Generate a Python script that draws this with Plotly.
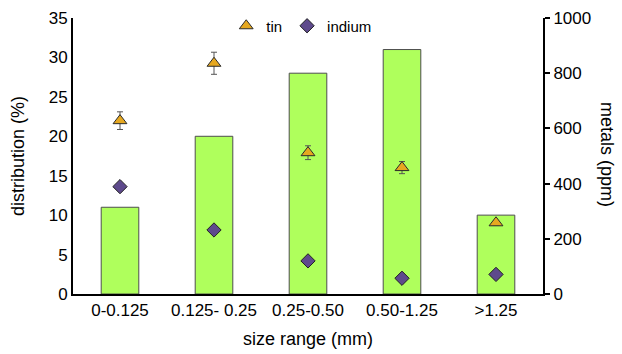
import plotly.graph_objects as go
from plotly.subplots import make_subplots

categories = ["0-0.125", "0.125- 0.25", "0.25-0.50", "0.50-1.25", ">1.25"]
distribution = [11, 20, 28, 31, 10]
tin_ppm = [628, 836, 512, 458, 258]
tin_err = [32, 40, 25, 22, 8]
indium_ppm = [389, 232, 120, 57, 71]

FONT = "Liberation Sans, Arial, sans-serif"

fig = make_subplots(specs=[[{"secondary_y": True}]])

fig.add_trace(go.Bar(
    x=categories, y=distribution, width=0.4,
    marker=dict(color="#AFFF5C", line=dict(color="#4d4d4d", width=1)),
    showlegend=False, name="distribution"), secondary_y=False)

fig.add_trace(go.Scatter(
    x=categories, y=tin_ppm, mode="markers", name="tin",
    marker=dict(symbol="triangle-up", size=12, color="#E6A820",
                line=dict(color="#2b2b2b", width=1)),
    error_y=dict(type="data", array=tin_err, color="#555555", thickness=1, width=3)),
    secondary_y=True)

fig.add_trace(go.Scatter(
    x=categories, y=indium_ppm, mode="markers", name="indium",
    marker=dict(symbol="diamond", size=11, color="#5E4A8C",
                line=dict(color="#222222", width=1))),
    secondary_y=True)

fig.update_layout(
    width=622, height=354,
    margin=dict(l=73, r=79, t=18, b=60, autoexpand=False),
    paper_bgcolor="white", plot_bgcolor="white",
    font=dict(family=FONT, size=17, color="black"),
    bargap=0.6,
    legend=dict(orientation="h", x=0.326, y=0.971, xanchor="left", yanchor="middle",
                font=dict(size=15), bgcolor="rgba(0,0,0,0)", itemwidth=30),
    showlegend=True,
)

fig.update_xaxes(domain=[0, 1], showline=True, linecolor="black", linewidth=2, ticks="",
                 showgrid=False, tickfont=dict(size=17), automargin=False,
                 title=dict(text="size range (mm)", font=dict(size=18), standoff=13))

fig.update_yaxes(range=[0, 35], dtick=5, showline=True, linecolor="black", linewidth=2,
                 ticks="", showgrid=False, zeroline=False, tickfont=dict(size=17),
                 automargin=False,
                 title=dict(text="distribution (%)", font=dict(size=18), standoff=19),
                 secondary_y=False)

fig.update_yaxes(range=[0, 1000], dtick=200, showline=True, linecolor="black", linewidth=2,
                 ticks="outside", ticklen=5, tickcolor="black", tickwidth=1.5,
                 showgrid=False, zeroline=False, tickfont=dict(size=17), automargin=False,
                 secondary_y=True)

fig.add_annotation(text="metals (ppm)", textangle=90, xref="paper", yref="paper",
                   x=1.136, y=0.504, showarrow=False, font=dict(size=18),
                   xanchor="center", yanchor="middle")

fig.write_html("out.html", config={"displayModeBar": False},
               post_script="document.body.style.margin='0';")
